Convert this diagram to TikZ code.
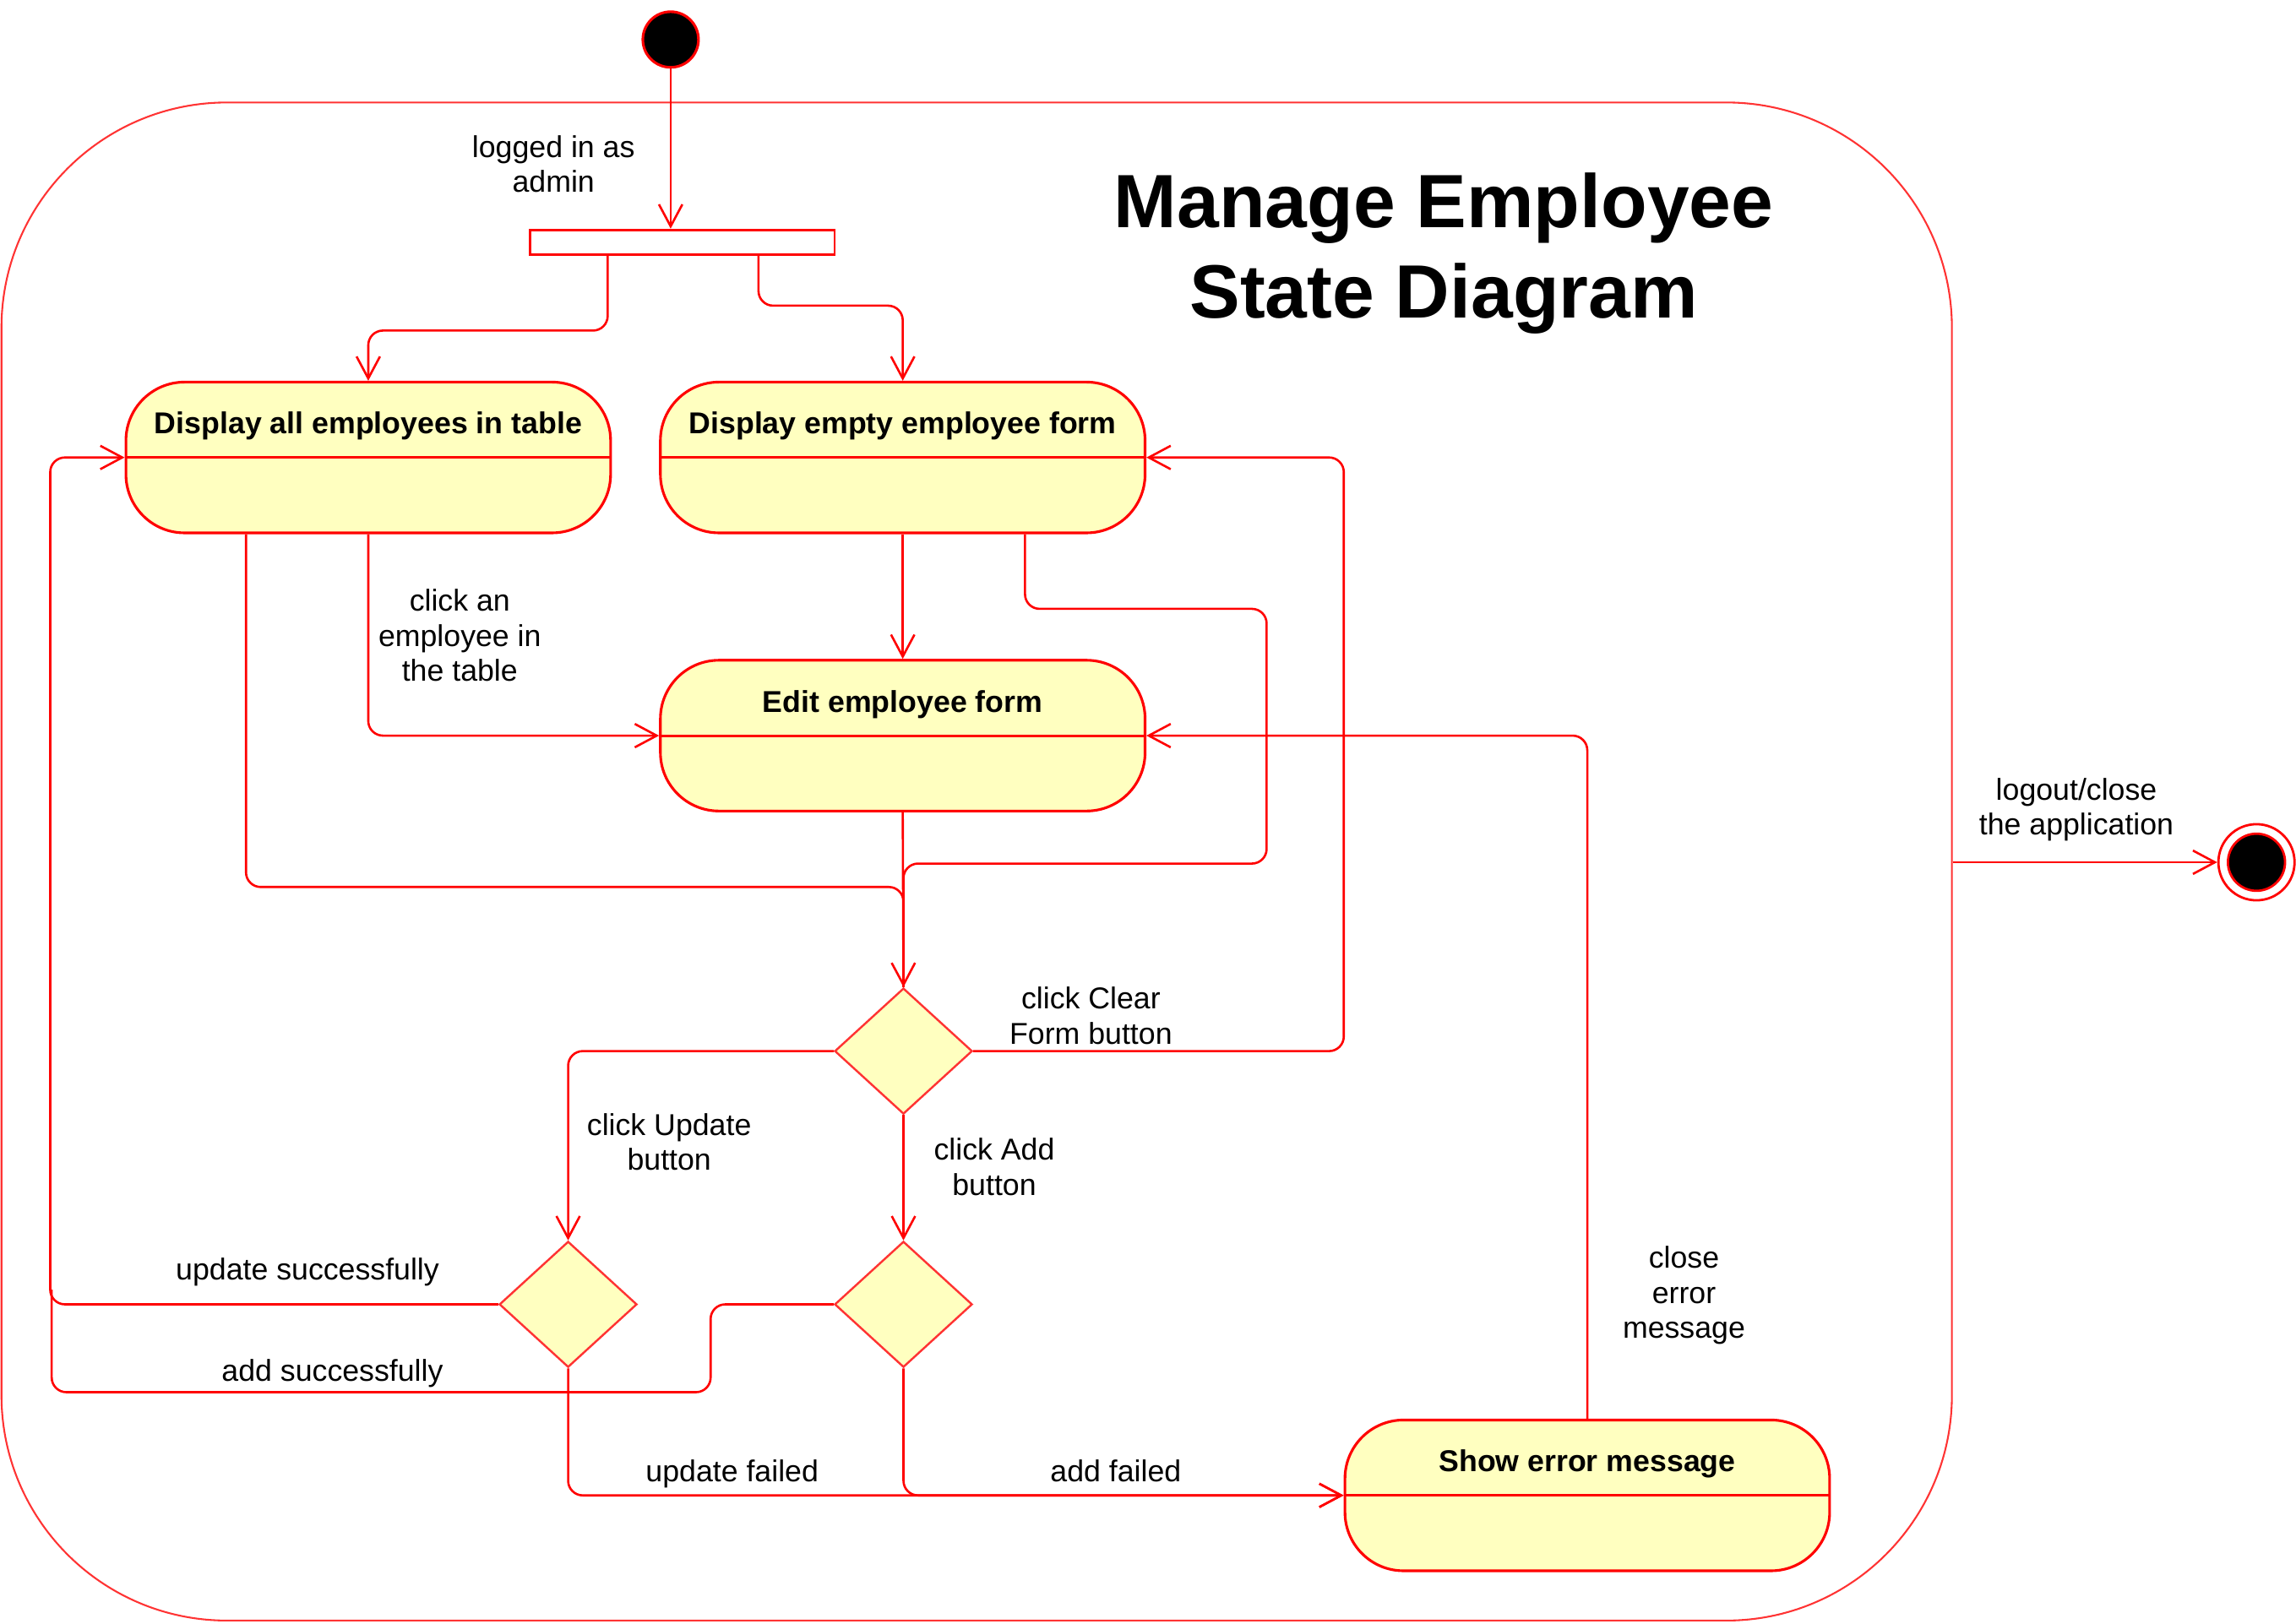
\documentclass[tikz,border=0pt]{standalone}
\usepackage{fontspec}
\setmainfont{Liberation Sans}
\usetikzlibrary{arrows.meta,shapes.geometric}

\definecolor{umlred}{HTML}{FF0000}
\definecolor{umlpale}{HTML}{FF3333}
\definecolor{umlfill}{HTML}{FFFFC0}

\tikzset{
  actstate/.style={draw=umlred,fill=umlfill,line width=0.9pt,rounded corners=20pt,
    minimum width=165.5pt,minimum height=51.5pt,inner sep=0pt},
  statetitle/.style={font=\bfseries\fontsize{10.3}{12}\selectfont,inner sep=0pt},
  decision/.style={diamond,draw=umlpale,fill=umlfill,line width=0.7pt,
    minimum width=47pt,minimum height=43pt,inner sep=0pt},
  trans/.style={draw=umlred,line width=0.75pt,rounded corners=5pt,
    -{Straight Barb[length=7.5pt,width=8pt]}},
  flow/.style={draw=umlred,line width=0.75pt,rounded corners=5pt},
  divline/.style={draw=umlred,line width=0.9pt},
  lbl/.style={font=\fontsize{10.3}{12}\selectfont,align=center,inner sep=0pt},
}

\begin{document}
\begin{tikzpicture}[x=0.5pt,y=-0.5pt]
\useasboundingbox (0,0) rectangle (1568,1109);

% composite state
\node[draw=umlpale,line width=0.6pt,rounded corners=77pt,minimum width=666pt,
  minimum height=518.5pt,inner sep=0pt] (mgr) at (667,588.5) {};
\node[font=\bfseries\fontsize{25.8}{31}\selectfont,align=center,inner sep=0pt] (title)
  at (986,173) {Manage Employee\\State Diagram};

% pseudo states
\node[circle,draw=umlred,fill=black,line width=0.9pt,minimum size=19pt,inner sep=0pt] (init) at (458,27) {};
\node[draw=umlred,fill=white,line width=0.8pt,minimum width=104pt,minimum height=8.5pt,inner sep=0pt] (fork) at (466,165.5) {};
\node[circle,draw=umlred,fill=white,line width=0.8pt,minimum size=26pt,inner sep=0pt] (fin) at (1541,589) {};
\node[circle,draw=umlred,fill=black,line width=0.8pt,minimum size=19.5pt,inner sep=0pt] (finin) at (1541,589) {};

% states
\node[actstate] (dall) at (251.5,312.5) {};
\draw[divline] (dall.west) -- (dall.east);
\node[statetitle] (dalltxt) at ([yshift=10.75pt]dall.center) {Display all employees in table};

\node[actstate] (dempty) at (616.5,312.5) {};
\draw[divline] (dempty.west) -- (dempty.east);
\node[statetitle] (demptytxt) at ([yshift=10.75pt]dempty.center) {Display empty employee form};

\node[actstate] (edit) at (616.5,502.5) {};
\draw[divline] (edit.west) -- (edit.east);
\node[statetitle] (edittxt) at ([yshift=10.75pt]edit.center) {Edit employee form};

\node[actstate] (err) at (1084,1021.5) {};
\draw[divline] (err.west) -- (err.east);
\node[statetitle] (errtxt) at ([yshift=10.75pt]err.center) {Show error message};

% decisions
\node[decision] (dec) at (617,718) {};
\node[decision] (dupd) at (388,891) {};
\node[decision] (dadd) at (617,891) {};

% transitions
\draw[trans] (init.south) -- (init.south |- fork.north);
\draw[trans] ([xshift=-25.5pt]fork.south) -- ++(0,51) -| (dall.north);
\draw[trans] ([xshift=26pt]fork.south) -- ++(0,34) -| (dempty.north);

\draw[trans] (dall.south) |- (edit.west);
\draw[trans] (dempty.south) -- (edit.north);

\draw[flow] ([xshift=-41.75pt]dall.south) -- ++(0,241) -| (dec.north);
\draw[flow] ([xshift=41.75pt]dempty.south) -- ++(0,51) -- ++(165,0) -- ++(0,174) -| (dec.north);
\draw[trans] (edit.south) -- (dec.north);

\draw[trans] (dec.east) -- ++(253,0) |- (dempty.east);
\draw[trans] (dec.west) -| (dupd.north);
\draw[trans] (dec.south) -- (dadd.north);

\draw[trans] (dupd.west) -- ++(-306,0) |- (dall.west);
\draw[flow] (dadd.west) -- ++(-84,0) -- ++(0,60) -- ++(-450,0) -- ++(0,-70);

\draw[trans] (dupd.south) |- (err.west);
\draw[trans] (dadd.south) |- (err.west);
\draw[trans] (err.north) |- (edit.east);

\draw[trans] (mgr.east |- fin) -- (fin);

% labels
\node[lbl] (lblogin) at (378,112) {logged in as\\admin};
\node[lbl] (lbclick) at (314,434) {click an\\employee in\\the table};
\node[lbl] (lbclear) at (745,694) {click Clear\\Form button};
\node[lbl] (lbupd) at (457,780) {click Update\\button};
\node[lbl] (lbadd) at (679,797) {click Add\\button};
\node[lbl] (lbupdok) at (210,869) {update successfully};
\node[lbl] (lbaddok) at (227,938) {add successfully};
\node[lbl] (lbupdno) at (500,1007) {update failed};
\node[lbl] (lbaddno) at (762,1005) {add failed};
\node[lbl] (lbclose) at (1150,885) {close\\error\\message};
\node[lbl] (lbquit) at (1418,553) {logout/close\\the application};
\end{tikzpicture}
\end{document}
